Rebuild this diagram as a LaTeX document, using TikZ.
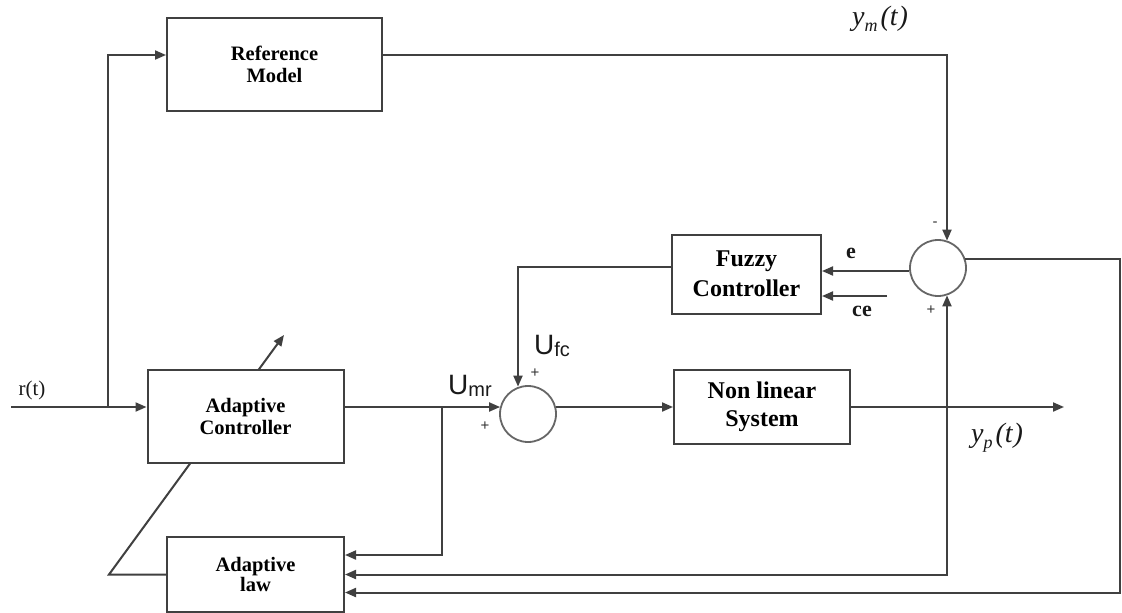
\documentclass[tikz,border=0pt]{standalone}
\usepackage{fontspec}
\setmainfont{Liberation Serif}
\newfontfamily\sansf{Liberation Sans}
\usetikzlibrary{arrows.meta,calc}
\pgfdeclarelayer{bg}
\pgfsetlayers{bg,main}
\definecolor{lc}{gray}{0.25}
\tikzset{
  blk/.style={draw=lc, line width=2pt, fill=white, inner sep=0pt, align=center,
              font=\bfseries\fontsize{20.5}{22}\selectfont},
  bigblk/.style={blk, font=\bfseries\fontsize{24}{30}\selectfont},
  sumc/.style={draw=lc!80, circle, line width=1.8pt, minimum size=56pt, inner sep=0pt},
  ln/.style={draw=lc, line width=2pt},
  arr/.style={ln, -{Triangle[length=11pt,width=9pt]}},
  sgn/.style={font=\sansf\fontsize{15}{15}\selectfont, inner sep=0pt, text=black!80},
  lbl/.style={inner sep=0pt, text=black!90},
}
\newcommand{\Usub}[2]{{\sansf\fontsize{28}{28}\selectfont #1}\raisebox{-2pt}{\sansf\fontsize{20}{20}\selectfont #2}}
\newcommand{\Ysig}[1]{{\itshape\fontsize{28}{28}\selectfont y\raisebox{-6pt}{\fontsize{18}{18}\selectfont #1}\kern3pt(t\kern1pt)}}
\begin{document}
\begin{tikzpicture}[x=1pt,y=-1pt]
\useasboundingbox (0,0) rectangle (1122,613);

% blocks
\node[blk, minimum width=215pt, minimum height=93pt] (rm) at (274.5,64.5) {Reference\\Model};
\node[blk, minimum width=196pt, minimum height=93pt] (ac) at (245.5,416.5) {Adaptive\\Controller};
\node[blk, minimum width=177pt, minimum height=75pt, font=\bfseries\fontsize{20.5}{20.5}\selectfont] (al) at (255.5,574.5) {Adaptive\\law};
\node[bigblk, minimum width=149pt, minimum height=79pt] (fc) at (746.5,274) {Fuzzy\\Controller};
\node[bigblk, minimum width=176pt, minimum height=74pt, font=\bfseries\fontsize{24}{28}\selectfont] (nl) at (762,407) {Non linear\\System};

% summing junctions
\node[sumc] (s1) at (938,268) {};
\node[sumc] (s2) at (528,414) {};

% free points
\coordinate (rin) at (11,407);
\coordinate (br1) at (108,407);
\coordinate (br2) at (442,407);
\coordinate (br3) at (947,407);
\coordinate (yout) at (1064,407);
\coordinate (rc1) at (1120,259);
\coordinate (ce0) at (887,296);
\coordinate (dl) at (109,574.5);
\coordinate (dt) at (284,335);

% background and adaptation arrow (behind the controller block)
\begin{pgfonlayer}{bg}
\fill[white] (0,0) rectangle (1122,613);
\draw[arr] (al.west) -- (dl) -- (dt);
\end{pgfonlayer}

% connectors
\draw[arr] (rin) -- ([yshift=9.5pt]ac.west);
\draw[arr] (br1) |- ([yshift=9.5pt]rm.west);
\draw[arr] ([yshift=9.5pt]rm.east) -| ($(s1.north)+(9,1.5)$);
\draw[arr] ([yshift=9.5pt]ac.east) -- ($(s2.west)+(1,-7)$);
\draw[arr] (br2) |- ([yshift=19.5pt]al.east);
\draw[arr] ([yshift=7pt]fc.west) -| ($(s2.north)+(-10,1.5)$);
\draw[arr] ($(s2.east)+(-1,-7)$) -- (nl.west);
\draw[arr] (nl.east) -- (yout);
\draw[arr] (br3) |- (al.east);
\draw[arr] (br3) -- ($(s1.south)+(9,-1.5)$);
\draw[arr] ([yshift=-3pt]s1.west) -- ([yshift=3pt]fc.east);
\draw[arr] (ce0) -- ([yshift=-22pt]fc.east);
\draw[arr] ($(s1.east)+(-1.5,-9)$) -- (rc1) |- ([yshift=-18pt]al.east);

% labels
\node[lbl, font=\fontsize{21}{21}\selectfont] (rlbl) at (32,390) {r(t)};
\node[lbl] (ymlbl) at (880,19) {\Ysig{m}};
\node[lbl] (yplbl) at (997,438) {\Ysig{p}};
\node[lbl] (umr) at (470,386) {\Usub{U}{mr}};
\node[lbl] (ufc) at (552,346) {\Usub{U}{fc}};
\node[lbl, font=\bfseries\fontsize{22}{22}\selectfont] (elbl) at (851,253) {e};
\node[lbl, font=\bfseries\fontsize{22}{22}\selectfont] (celbl) at (862,311) {ce};
\node[sgn] (m1) at (935,224) {-};
\node[sgn] (p1) at (931,310) {+};
\node[sgn] (p2) at (535,373) {+};
\node[sgn] (p3) at (485,426) {+};
\end{tikzpicture}
\end{document}
